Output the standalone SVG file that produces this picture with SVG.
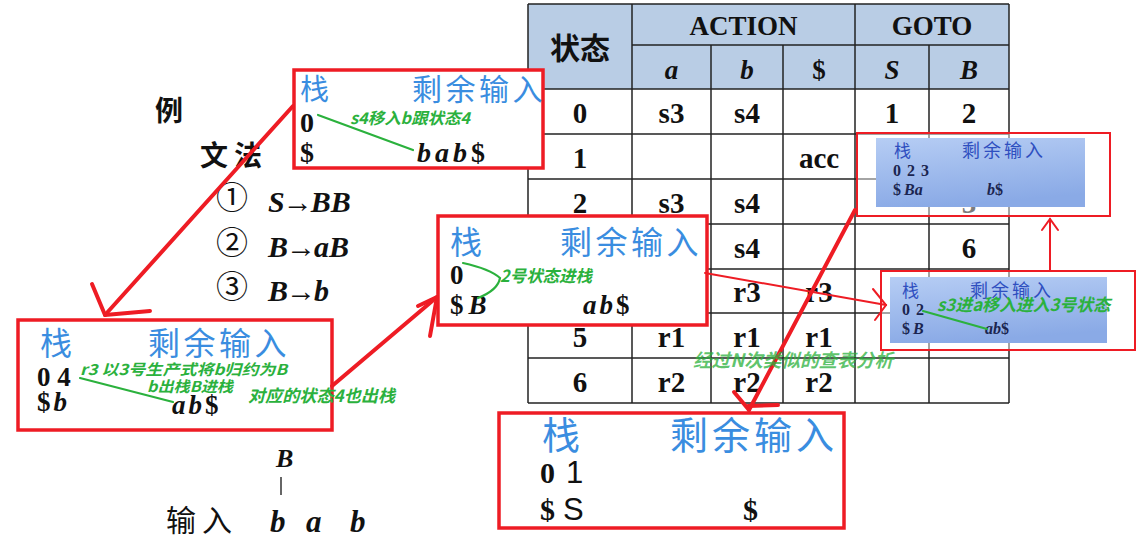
<svg xmlns="http://www.w3.org/2000/svg" width="1145" height="539" viewBox="0 0 1145 539">
<defs>
<linearGradient id="bg" x1="0" y1="0" x2="0.25" y2="1">
<stop offset="0" stop-color="#b6cdf4"/>
<stop offset="1" stop-color="#8aaae6"/>
</linearGradient>
<style>
.rbox{fill:#fff;stroke:#ee1c24;stroke-width:3.5}
.rthin{fill:#fff;fill-opacity:.45;stroke:#ee1c24;stroke-width:2}
.inner{fill:url(#bg)}
.blue{fill:#3a8de0;font-family:"Noto Sans CJK SC",sans-serif}
.ser{font-family:"Liberation Serif",serif;font-weight:bold;fill:#111}
.it{font-style:italic}
.cjk{font-family:"Noto Sans CJK SC",sans-serif;fill:#111}
.grn{fill:#2bb13d;font-family:"Noto Sans CJK SC",sans-serif;font-weight:bold;font-style:italic}
.gl{stroke:#2bb13d;stroke-width:2.2;fill:none;stroke-linecap:round}
.arr{stroke:#ee1c24;stroke-width:4;fill:none;stroke-linecap:round;stroke-linejoin:round}
.arrt{stroke:#ee1c24;stroke-width:2;fill:none;stroke-linecap:round}
.tl{stroke:#222;stroke-width:1.5}
.cell{font-family:"Liberation Serif",serif;font-weight:bold;font-size:29px;text-anchor:middle;fill:#111}
.hd{font-family:"Liberation Serif",serif;font-weight:bold;font-size:27px;text-anchor:middle;fill:#111}
.nb{fill:#2f4fc0;font-family:"Noto Sans CJK SC",sans-serif}
.nd{fill:#1b2550;font-family:"Liberation Serif",serif;font-weight:bold}
</style>
</defs>
<rect width="1145" height="539" fill="#fff"/>

<g id="table">
<rect x="528" y="4" width="481" height="85" fill="#b9cde5"/>
<g class="tl">
<line x1="528" y1="4" x2="1009" y2="4"/>
<line x1="632" y1="45" x2="1009" y2="45"/>
<line x1="528" y1="89" x2="1009" y2="89"/>
<line x1="528" y1="134" x2="1009" y2="134"/>
<line x1="528" y1="179" x2="1009" y2="179"/>
<line x1="528" y1="224" x2="1009" y2="224"/>
<line x1="528" y1="269" x2="1009" y2="269"/>
<line x1="528" y1="313" x2="1009" y2="313"/>
<line x1="528" y1="358" x2="1009" y2="358"/>
<line x1="528" y1="403" x2="1009" y2="403"/>
<line x1="528" y1="4" x2="528" y2="403"/>
<line x1="632" y1="4" x2="632" y2="403"/>
<line x1="711" y1="45" x2="711" y2="403"/>
<line x1="783" y1="45" x2="783" y2="403"/>
<line x1="855" y1="4" x2="855" y2="403"/>
<line x1="929" y1="45" x2="929" y2="403"/>
<line x1="1009" y1="4" x2="1009" y2="403"/>
</g>
<text x="580" y="59" class="cjk" font-size="30" font-weight="bold" text-anchor="middle">状态</text>
<text x="743.5" y="35" class="hd">ACTION</text>
<text x="932" y="35" class="hd">GOTO</text>
<text x="671.5" y="79" class="hd it">a</text>
<text x="747" y="79" class="hd it">b</text>
<text x="819" y="79" class="hd">$</text>
<text x="892" y="79" class="hd it">S</text>
<text x="969" y="79" class="hd it">B</text>
<text x="580" y="123" class="cell">0</text>
<text x="671.5" y="123" class="cell">s3</text>
<text x="747" y="123" class="cell">s4</text>
<text x="892" y="123" class="cell">1</text>
<text x="969" y="123" class="cell">2</text>
<text x="580" y="168" class="cell">1</text>
<text x="819" y="168" class="cell">acc</text>
<text x="580" y="213" class="cell">2</text>
<text x="671.5" y="213" class="cell">s3</text>
<text x="747" y="213" class="cell">s4</text>
<text x="969" y="213" class="cell">3</text>
<text x="747" y="258" class="cell">s4</text>
<text x="969" y="258" class="cell">6</text>
<text x="747" y="302" class="cell">r3</text>
<text x="819" y="302" class="cell">r3</text>
<text x="580" y="347" class="cell">5</text>
<text x="671.5" y="347" class="cell">r1</text>
<text x="747" y="347" class="cell">r1</text>
<text x="819" y="347" class="cell">r1</text>
<text x="580" y="392" class="cell">6</text>
<text x="671.5" y="392" class="cell">r2</text>
<text x="747" y="392" class="cell">r2</text>
<text x="819" y="392" class="cell">r2</text>
</g>

<g id="grammar">
<text x="155" y="121" class="cjk" font-size="28" font-weight="bold">例</text>
<text x="200" y="166" class="cjk" font-size="28" font-weight="bold" letter-spacing="6">文法</text>
<text x="216" y="209" class="cjk" font-size="32">①</text>
<text x="216" y="254" class="cjk" font-size="32">②</text>
<text x="216" y="298" class="cjk" font-size="32">③</text>
<text x="268" y="212" class="ser it" font-size="30">S<tspan dx="-2" font-style="normal">→</tspan><tspan dx="-2">BB</tspan></text>
<text x="268" y="257" class="ser it" font-size="30">B<tspan dx="-2" font-style="normal">→</tspan><tspan dx="-2">aB</tspan></text>
<text x="268" y="301" class="ser it" font-size="30">B<tspan dx="-2" font-style="normal">→</tspan><tspan dx="-2">b</tspan></text>
</g>

<g id="input">
<text x="276" y="467" class="ser it" font-size="26">B</text>
<line x1="281" y1="477" x2="281" y2="495" stroke="#333" stroke-width="1.5"/>
<text x="166" y="531" class="cjk" font-size="30" letter-spacing="6">输入</text>
<text x="270" y="532" class="ser it" font-size="31">b</text>
<text x="306" y="532" class="ser it" font-size="31">a</text>
<text x="350" y="532" class="ser it" font-size="31">b</text>
</g>

<g id="box1">
<rect x="294" y="70" width="249" height="98" class="rbox"/>
<text x="300" y="100" class="blue" font-size="29">栈</text>
<text x="412" y="100" class="blue" font-size="30" letter-spacing="3.5">剩余输入</text>
<text x="300" y="132" class="ser" font-size="28">0</text>
<text x="300" y="162" class="ser" font-size="28">$</text>
<text x="417" y="162" class="ser it" font-size="28" letter-spacing="4">bab<tspan font-style="normal">$</tspan></text>
<line x1="318" y1="115" x2="413" y2="150" class="gl"/>
<text x="350" y="124" class="grn" font-size="16" textLength="120" lengthAdjust="spacingAndGlyphs">s4移入b跟状态4</text>
</g>

<g id="box2">
<rect x="18" y="320" width="314" height="110" class="rbox"/>
<text x="40" y="355" class="blue" font-size="32">栈</text>
<text x="148" y="355" class="blue" font-size="32" letter-spacing="3.5">剩余输入</text>
<text x="37" y="386" class="ser" font-size="27">0 4</text>
<text x="37" y="411" class="ser" font-size="27">$<tspan dx="3" font-style="italic">b</tspan></text>
<text x="172" y="414" class="ser it" font-size="27">a<tspan dx="3">b</tspan><tspan dx="3" font-style="normal">$</tspan></text>
<line x1="80" y1="378" x2="173" y2="402" class="gl"/>
<text x="80" y="375" class="grn" font-size="15" textLength="207" lengthAdjust="spacingAndGlyphs">r3 以3号生产式将b归约为B</text>
<text x="147" y="392" class="grn" font-size="15" textLength="86" lengthAdjust="spacingAndGlyphs">b出栈B进栈</text>
<text x="248" y="402" class="grn" font-size="17" textLength="147" lengthAdjust="spacingAndGlyphs">对应的状态4也出栈</text>
</g>

<g id="box3">
<rect x="438" y="216" width="269" height="109" class="rbox"/>
<text x="450" y="254" class="blue" font-size="32">栈</text>
<text x="560" y="254" class="blue" font-size="32" letter-spacing="3.5">剩余输入</text>
<text x="450" y="284" class="ser" font-size="27">0</text>
<text x="450" y="314" class="ser" font-size="27">$<tspan dx="5" font-style="italic">B</tspan></text>
<text x="583" y="314" class="ser it" font-size="27">a<tspan dx="3">b</tspan><tspan dx="3" font-style="normal">$</tspan></text>
<path d="M463,263 Q490,269 500,278 Q498,290 478,298" class="gl"/>
<text x="500" y="282" class="grn" font-size="16.5" textLength="92" lengthAdjust="spacingAndGlyphs">2号状态进栈</text>
</g>

<g id="box4">
<rect x="857" y="133" width="253" height="83" class="rthin"/>
<rect x="876" y="138" width="209" height="69" class="inner"/>
<text x="894" y="157" class="nb" font-size="17">栈</text>
<text x="962" y="157" class="nb" font-size="18" letter-spacing="3">剩余输入</text>
<text x="893" y="176" class="nd" font-size="16" letter-spacing="1">0 2 3</text>
<text x="893" y="195" class="nd" font-size="16">$<tspan dx="3" font-style="italic">Ba</tspan></text>
<text x="987" y="195" class="nd" font-size="16"><tspan font-style="italic">b</tspan>$</text>
</g>

<g id="box5">
<rect x="881" y="271" width="254" height="79" class="rthin"/>
<rect x="890" y="277" width="217" height="66" class="inner"/>
<text x="902" y="297" class="nb" font-size="17">栈</text>
<text x="970" y="297" class="nb" font-size="18" letter-spacing="3">剩余输入</text>
<text x="902" y="315" class="nd" font-size="16" letter-spacing="1">0 2</text>
<text x="902" y="334" class="nd" font-size="16">$<tspan dx="3" font-style="italic">B</tspan></text>
<text x="985" y="334" class="nd" font-size="16"><tspan font-style="italic">ab</tspan>$</text>
<line x1="923" y1="311" x2="987" y2="329" class="gl"/>
<text x="937" y="311" class="grn" font-size="17" textLength="173" lengthAdjust="spacingAndGlyphs">s3进a移入进入3号状态</text>
</g>

<g id="box6">
<rect x="499" y="413" width="345" height="115" class="rbox"/>
<text x="542" y="449" class="blue" font-size="38">栈</text>
<text x="670" y="449" class="blue" font-size="38" letter-spacing="4">剩余输入</text>
<text x="540" y="483" class="ser" font-size="30">0</text>
<text x="566" y="483" font-family="Liberation Sans, sans-serif" font-size="31" fill="#111">1</text>
<text x="540" y="520" class="ser" font-size="30">$</text>
<text x="563" y="520" font-family="Liberation Sans, sans-serif" font-size="31" fill="#111">S</text>
<text x="743" y="520" class="ser" font-size="30">$</text>
</g>

<g id="connectors">
<path d="M293,106 L105,315" class="arr"/>
<path d="M92,284 L105,315 L150,311" class="arr"/>
<path d="M332,386 L437,297" class="arr"/>
<path d="M418,306 L437,297 L430,336" class="arr"/>
<path d="M705,273 L886,305" class="arrt"/>
<path d="M873,289 L886,305 L875,320" class="arrt"/>
<path d="M855,210 L749,410" class="arr"/>
<path d="M734,392 L749,410" class="arr"/>
<path d="M748,406 L778,405" class="arr"/>
<path d="M1050,270 L1050,219" class="arrt" stroke-width="2.5"/>
<path d="M1042,230 L1050,219 L1058,230" class="arrt" stroke-width="2.5"/>
</g>

<g id="note">
<text x="693" y="367" class="grn" font-size="18.5" fill-opacity="0.75" textLength="200" lengthAdjust="spacingAndGlyphs">经过N次类似的查表分析</text>
</g>
</svg>
